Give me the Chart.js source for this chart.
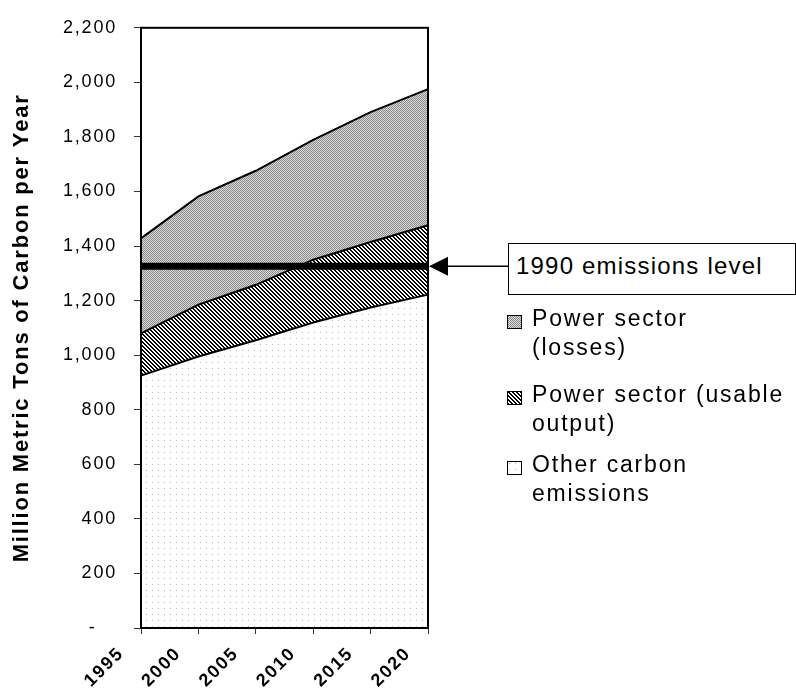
<!DOCTYPE html>
<html>
<head>
<meta charset="utf-8">
<script src="https://cdn.jsdelivr.net/npm/chart.js@4.4.1/dist/chart.umd.min.js"></script>
<style>
  html, body { margin: 0; padding: 0; background: #fff; }
  #wrap { position: relative; width: 796px; height: 695px; overflow: hidden;
          font-family: "Liberation Sans", Arial, sans-serif; color: #000; }
  #chart { position: absolute; left: 0; top: 0; }
  .note { position: absolute; left: 508px; top: 243px; width: 288px; height: 52px;
          box-sizing: border-box; border: 1.5px solid #000; background: #fff;
          font-size: 24px; letter-spacing: 1.2px; line-height: 44px; padding-left: 7px;
          white-space: nowrap; }
  .leg { position: absolute; left: 507px; font-size: 23px; letter-spacing: 1.8px;
         line-height: 29px; white-space: nowrap; }
  .leg canvas { position: absolute; left: 0; top: 11px; }
  .leg span { display: block; margin-left: 25px; }
</style>
</head>
<body>
<div id="wrap">
  <canvas id="chart" width="796" height="695"></canvas>
  <div class="note">1990 emissions level</div>
  <div class="leg" style="top:304px"><canvas id="sw-losses" width="15" height="14"></canvas><span>Power sector<br>(losses)</span></div>
  <div class="leg" style="top:380px"><canvas id="sw-usable" width="15" height="14"></canvas><span>Power sector (usable<br>output)</span></div>
  <div class="leg" style="top:450px"><canvas id="sw-other" width="15" height="14"></canvas><span>Other carbon<br>emissions</span></div>
</div>
<script>
// Carbon emissions projection, million metric tons of carbon per year
const years = ['1995', '2000', '2005', '2010', '2015', '2020'];
const otherEmissions = [925, 995, 1055, 1120, 1175, 1222];
const powerUsable   = [155, 190, 203, 230, 240, 254];
const powerLosses   = [348, 397, 418, 439, 476, 499];
const level1990     = [1326, 1326, 1326, 1326, 1326, 1326];
const yTickValues   = [0, 200, 400, 600, 800, 1000, 1200, 1400, 1600, 1800, 2000, 2200];

// --- fill patterns -------------------------------------------------------
function makeTile(w, h, paint) {
  const c = document.createElement('canvas');
  c.width = w; c.height = h;
  const g = c.getContext('2d');
  paint(g);
  return c;
}
const dotTile = makeTile(6, 6, g => {
  g.fillStyle = '#fff'; g.fillRect(0, 0, 6, 6);
  g.fillStyle = '#c2b0a0'; g.fillRect(2, 2, 1, 1);
});
const greyTile = makeTile(2, 2, g => {
  g.fillStyle = '#dadada'; g.fillRect(0, 0, 2, 2);
  g.fillStyle = '#8a8a8a'; g.fillRect(0, 0, 1, 1); g.fillRect(1, 1, 1, 1);
});
const hatchTile = makeTile(4, 4, g => {
  g.fillStyle = '#fff'; g.fillRect(0, 0, 4, 4);
  g.fillStyle = '#000';
  for (let y = 0; y < 4; y++) {
    for (let x = 0; x < 4; x++) {
      const d = ((x - y) % 4 + 4) % 4;
      if (d === 0 || d === 1) g.fillRect(x, y, 1, 1);
    }
  }
});
const ctx = document.getElementById('chart').getContext('2d');
const patOther  = ctx.createPattern(dotTile, 'repeat');
const patLosses = ctx.createPattern(greyTile, 'repeat');
const patUsable = ctx.createPattern(hatchTile, 'repeat');

// legend swatches
[['sw-losses', greyTile], ['sw-usable', hatchTile], ['sw-other', dotTile]].forEach(([id, tile]) => {
  const g = document.getElementById(id).getContext('2d');
  g.fillStyle = g.createPattern(tile, 'repeat');
  g.fillRect(0, 0, 15, 14);
  g.strokeStyle = '#000'; g.lineWidth = 1;
  g.strokeRect(0.5, 0.5, 14, 13);
});

// --- plugins ---------------------------------------------------------------
const SPACING = '1.8px';
const textSpacing = {
  id: 'textSpacing',
  beforeUpdate(chart) { chart.ctx.letterSpacing = SPACING; },
  beforeDraw(chart) { chart.ctx.letterSpacing = SPACING; }
};

// plot frame plus the arrow pointing at the 1990 level
const frameAndArrow = {
  id: 'frameAndArrow',
  afterDraw(chart) {
    const { ctx, chartArea: a } = chart;
    ctx.save();
    ctx.strokeStyle = '#000';
    ctx.lineWidth = 2;
    ctx.strokeRect(a.left, a.top, a.right - a.left, a.bottom - a.top);
    const y = chart.scales.y.getPixelForValue(level1990[level1990.length - 1]);
    ctx.beginPath();
    ctx.moveTo(a.right + 1, y);
    ctx.lineTo(a.right + 20, y - 9.5);
    ctx.lineTo(a.right + 20, y + 9.5);
    ctx.closePath();
    ctx.fillStyle = '#000';
    ctx.fill();
    ctx.lineWidth = 1.5;
    ctx.beginPath();
    ctx.moveTo(a.right + 20, y);
    ctx.lineTo(509, y);
    ctx.stroke();
    ctx.restore();
  }
};

const areaStyle = (label, data, fill, bg) => ({
  label, data, fill,
  backgroundColor: bg,
  borderColor: '#000',
  borderWidth: 2,
  pointRadius: 0,
  tension: 0,
  order: 1
});

new Chart(ctx, {
  type: 'line',
  data: {
    labels: years,
    datasets: [
      areaStyle('Other carbon emissions', otherEmissions, 'origin', patOther),
      areaStyle('Power sector (usable output)', powerUsable, '-1', patUsable),
      areaStyle('Power sector (losses)', powerLosses, '-1', patLosses),
      {
        label: '1990 emissions level',
        data: level1990,
        yAxisID: 'y2',
        fill: false,
        borderColor: '#000',
        borderWidth: 7,
        pointRadius: 0,
        order: 0
      }
    ]
  },
  options: {
    responsive: false,
    animation: false,
    events: [],
    layout: { padding: { top: 23, right: 368, bottom: 0, left: 0 } },
    plugins: { legend: { display: false }, tooltip: { enabled: false } },
    scales: {
      x: {
        offset: false,
        grid: { drawOnChartArea: false, drawTicks: true, tickLength: 6, color: '#333', lineWidth: 1 },
        border: { display: false },
        ticks: {
          autoSkip: false,
          minRotation: 45, maxRotation: 45,
          padding: 9,
          labelOffset: -20,
          color: '#000',
          font: { family: '"Liberation Sans", Arial, sans-serif', size: 18, weight: 'bold' }
        },
        afterFit(s) { s.height = 695 - 628; }
      },
      y: {
        stacked: true,
        min: 0, max: 2200,
        afterBuildTicks(s) { s.ticks = yTickValues.map(v => ({ value: v })); },
        grid: { drawOnChartArea: false, drawTicks: true, tickLength: 7, color: '#333', lineWidth: 1 },
        border: { display: false },
        ticks: {
          padding: 17,
          color: '#000',
          font: { family: '"Liberation Sans", Arial, sans-serif', size: 18 },
          callback: v => v === 0 ? '-   ' : v.toLocaleString('en-US')
        },
        title: {
          display: true,
          text: 'Million Metric Tons of Carbon per Year',
          color: '#000',
          font: { family: '"Liberation Sans", Arial, sans-serif', size: 22, weight: 'bold' },
          padding: { top: 9, bottom: 0 }
        },
        afterFit(s) { s.width = 141; }
      },
      y2: { display: false, min: 0, max: 2200 }
    }
  },
  plugins: [textSpacing, frameAndArrow]
});
</script>
</body>
</html>
